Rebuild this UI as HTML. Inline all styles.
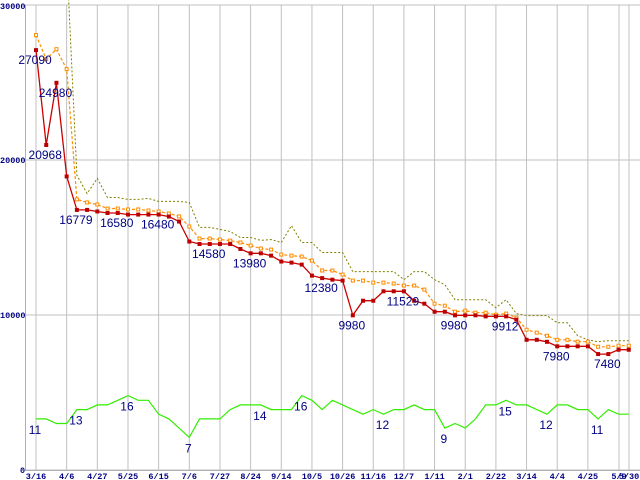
<!DOCTYPE html>
<html><head><meta charset="utf-8"><style>
html,body{margin:0;padding:0;background:#fff;}
svg{display:block;}
</style></head><body>
<svg id="chart" width="640" height="480" xmlns="http://www.w3.org/2000/svg"></svg>
<script>
const dates = ["3/16","4/6","4/27","5/25","6/15","7/6","7/27","8/24","9/14","10/5","10/26","11/16","12/7","1/11","2/1","2/22","3/14","4/4","4/25","5/9","5/30"];
const yTicks = [0,10000,20000,30000];
const minPrice = [27090,20968,24980,18940,16779,16779,16680,16580,16580,16480,16480,16480,16480,16350,16030,14740,14580,14580,14580,14580,14260,13980,13980,13830,13450,13380,13250,12540,12380,12280,12220,9980,10920,10920,11529,11529,11529,10920,10730,10210,10210,9980,9980,9980,9912,9912,9912,9700,8400,8400,8270,7980,7980,7980,7980,7480,7480,7760,7760];
const avgPrice = [28060,26510,27150,25860,17460,17260,17130,16870,16870,16810,16810,16740,16680,16550,16360,15710,14930,14930,14870,14800,14680,14480,14290,14220,13900,13830,13770,13510,12870,12870,12610,12220,12220,12090,12090,12030,11900,11900,11640,10730,10600,10210,10280,10150,10150,10020,10090,9830,9050,8860,8660,8400,8400,8280,8280,7950,7950,8020,8020];
const maxPrice = [null,null,null,33000,19010,17840,18810,17580,17580,17460,17460,17520,17330,17330,17330,17260,15650,15650,15520,15390,15000,15000,14810,14870,14680,15770,14680,14680,14030,14030,14030,12800,12800,12800,12800,12800,12280,12800,12800,12280,11960,10990,10990,10990,10990,10470,10990,10090,9960,9960,9960,9500,9500,8660,8400,8280,8340,8340,8340];
const shopCount = [11,11,10,10,13,13,14,14,15,16,15,15,12,11,9,7,11,11,11,13,14,14,14,13,13,13,16,15,13,15,14,13,12,13,12,13,13,14,13,13,9,10,9,11,14,14,15,14,14,13,12,14,14,13,13,11,13,12,12];
const priceLabelIdx = [0,1,2,4,8,12,17,21,28,31,36,41,46,51,56];
const priceLabelText = ["27090","20968","24980","16779","16580","16480","14580","13980","12380","9980","11529","9980","9912","7980","7480"];
const countLabelIdx = [0,4,9,15,22,26,34,40,46,50,55];

const NS="http://www.w3.org/2000/svg";
const svg=document.getElementById('chart');
const L=25,T=5,B=470,R=640;
function yP(v){return B-(v/30000)*(B-T);}
function yC(c){return B-(c/100)*(B-T);}
function xI(i){return 36+10.22*i;}
function xD(k){return k<19?36+30.66*k:(k===19?619:629);}
function mk(tag,attrs){const e=document.createElementNS(NS,tag);for(const k in attrs)e.setAttribute(k,attrs[k]);return e;}

const grid=mk('g',{});


svg.appendChild(grid);
yTicks.forEach(v=>{
  const ln=mk('line',{x1:L,x2:R,y1:yP(v),y2:yP(v),stroke:'#c0c0c0','stroke-width':1});
  
  
  grid.appendChild(ln);
  const t=mk('text',{x:v===0?20:0,y:yP(v)+(v===30000?4:3),'font-family':'Liberation Mono, monospace','font-size':8.5,'font-weight':'bold',fill:'#000080'});
  t.textContent=String(v);
  
  
  svg.appendChild(t);
});
dates.forEach((d,k)=>{
  const x=xD(k);
  const ln=mk('line',{x1:x,x2:x,y1:T,y2:B,stroke:'#c0c0c0','stroke-width':1});
  
  
  grid.appendChild(ln);
  const t=mk('text',{x:x,y:479,'text-anchor':'middle','font-family':'Liberation Mono, monospace','font-size':8.5,'font-weight':'bold',fill:'#000080'});
  t.textContent=d;
  
  
  svg.appendChild(t);
});
const ax=mk('line',{x1:L+0.5,x2:L+0.5,y1:T,y2:B,stroke:'#b0b0b0','stroke-width':1});


svg.appendChild(ax);
const bx=mk('line',{x1:L,x2:R,y1:B+0.5,y2:B+0.5,stroke:'#b0b0b0','stroke-width':1});


svg.appendChild(bx);

function pathFor(arr,yf){
  let d='',pen=false;
  arr.forEach((v,i)=>{
    if(v===null){pen=false;return;}
    d+=(pen?'L':'M')+xI(i).toFixed(1)+' '+yf(v).toFixed(1)+' ';pen=true;
  });
  return d;
}
const clip=mk('clipPath',{id:'plotclip'});
clip.appendChild(mk('rect',{x:L,y:0,width:R-L,height:B}));
svg.appendChild(clip);

const gLine=mk('path',{d:pathFor(shopCount,yC),fill:'none',stroke:'#33ee00','stroke-width':1.2});


svg.appendChild(gLine);

const oLine=mk('path',{d:pathFor(maxPrice,yP),fill:'none',stroke:'#808000','stroke-width':1,'stroke-dasharray':'2,2','clip-path':'url(#plotclip)'});


svg.appendChild(oLine);

const aLine=mk('path',{d:pathFor(avgPrice,yP),fill:'none',stroke:'#ff8c00','stroke-width':1.2,'stroke-dasharray':'3,2'});


svg.appendChild(aLine);
avgPrice.forEach((v,i)=>{
  const r=mk('rect',{x:xI(i)-1.5,y:yP(v)-1.5,width:3,height:3,fill:'#fff',stroke:'#ff8c00','stroke-width':1});
  
  
  svg.appendChild(r);
});

const rLine=mk('path',{d:pathFor(minPrice,yP),fill:'none',stroke:'#cc0000','stroke-width':1.3});


svg.appendChild(rLine);
minPrice.forEach((v,i)=>{
  const r=mk('rect',{x:xI(i)-2,y:yP(v)-2,width:4,height:4,fill:'#bb0000'});
  
  
  svg.appendChild(r);
});

priceLabelIdx.forEach((i,n)=>{
  const t=mk('text',{x:xI(i)-1,y:yP(minPrice[i])+14,'text-anchor':'middle','font-family':'Liberation Sans, sans-serif','font-size':12,fill:'#000080'});
  t.textContent=priceLabelText[n];
  
  
  svg.appendChild(t);
});
countLabelIdx.forEach(i=>{
  const t=mk('text',{x:xI(i)-1,y:yC(shopCount[i])+15,'text-anchor':'middle','font-family':'Liberation Sans, sans-serif','font-size':12,fill:'#000080'});
  t.textContent=String(shopCount[i]);
  
  
  svg.appendChild(t);
});
</script>
</body></html>
